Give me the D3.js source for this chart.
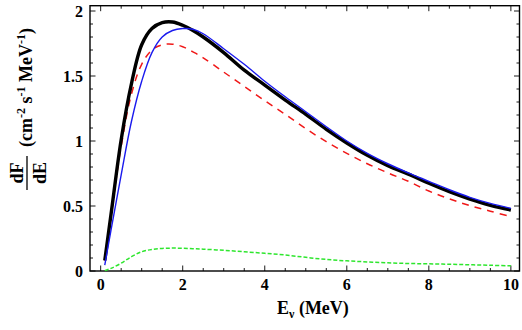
<!DOCTYPE html>
<html><head><meta charset="utf-8">
<script src="https://cdn.jsdelivr.net/npm/d3@7"></script>
<style>body{margin:0;background:#fff}svg{display:block}text{font-family:"Liberation Serif","Times New Roman",serif;font-weight:bold}</style>
</head><body>
<svg id="chart" width="522" height="330"></svg>
<script>
// Data
const energy = [0.1,0.25,0.5,0.75,1.0,1.25,1.5,1.75,2.0,2.25,2.5,3.0,3.5,4.0,4.5,5.0,5.5,6.0,6.5,7.0,7.5,8.0,8.5,9.0,9.5,10.0];
const totalFlux = [0.08,0.43,1.01,1.44,1.74,1.865,1.91,1.915,1.89,1.85,1.80,1.68,1.545,1.43,1.315,1.205,1.09,0.985,0.89,0.81,0.745,0.675,0.61,0.553,0.505,0.469];
const blueFlux  = [0.046,0.31,0.74,1.15,1.46,1.68,1.80,1.85,1.865,1.86,1.825,1.71,1.59,1.46,1.34,1.225,1.11,1.0,0.905,0.825,0.755,0.69,0.625,0.567,0.52,0.482];
const redFlux   = [0.08,0.42,0.96,1.36,1.59,1.70,1.74,1.745,1.725,1.685,1.64,1.53,1.42,1.31,1.205,1.095,0.995,0.905,0.825,0.755,0.69,0.615,0.555,0.503,0.46,0.418];
const greenFlux = [0.003,0.02,0.06,0.11,0.148,0.166,0.174,0.176,0.175,0.172,0.168,0.159,0.148,0.136,0.123,0.105,0.089,0.078,0.070,0.063,0.058,0.055,0.052,0.048,0.044,0.040];
const xTicks = [0,2,4,6,8,10];
const yTicks = [0,0.5,1,1.5,2];
const yTickLabels = ["0","0.5","1","1.5","2"];

const svg = d3.select("#chart");
const L=90, R=519.5, T=5.7, B=271;
const x = d3.scaleLinear().domain([-0.26,10.21]).range([L,R]);
const y = d3.scaleLinear().domain([0,(B-T)/130]).range([B,T]);

// frame
svg.append("rect").attr("x",L).attr("y",T).attr("width",R-L).attr("height",B-T)
  .attr("fill","none").attr("stroke","#000").attr("stroke-width",1.4);

const xMinor = d3.range(0,10.01,0.5).filter(v=>Math.abs(v/2-Math.round(v/2))>1e-6);
const yMinor = d3.range(0,2.041,0.1).filter(v=>Math.abs(v*2-Math.round(v*2))>1e-6);
const tk = svg.append("g").attr("stroke","#000").attr("stroke-width",0.9);
function xt(vals,len){vals.forEach(v=>{
  tk.append("line").attr("x1",x(v)).attr("x2",x(v)).attr("y1",B).attr("y2",B-len);
  tk.append("line").attr("x1",x(v)).attr("x2",x(v)).attr("y1",T).attr("y2",T+len);});}
function yt(vals,len){vals.forEach(v=>{
  tk.append("line").attr("y1",y(v)).attr("y2",y(v)).attr("x1",L).attr("x2",L+len);
  tk.append("line").attr("y1",y(v)).attr("y2",y(v)).attr("x1",R).attr("x2",R-len);});}
xt(xTicks,5.5); xt(xMinor,3); yt(yTicks,5.5); yt(yMinor,3);

// tick labels
svg.append("g").selectAll("text").data(xTicks).join("text")
  .attr("x",d=>x(d)).attr("y",290).attr("text-anchor","middle").attr("font-size",16).text(d=>d);
svg.append("g").selectAll("text").data(yTicks).join("text")
  .attr("x",83).attr("y",d=>y(d)+5.5).attr("text-anchor","end").attr("font-size",16).text((d,i)=>yTickLabels[i]);

// curves
const line = (vals)=>d3.line().x((d,i)=>x(energy[i])).y(d=>y(d)).curve(d3.curveCatmullRom.alpha(0.5))(vals);
svg.append("path").attr("d",line(greenFlux)).attr("fill","none").attr("stroke","#2ee62e").attr("stroke-width",1.5).attr("stroke-dasharray","4,2");
svg.append("path").attr("d",line(redFlux)).attr("fill","none").attr("stroke","#f01818").attr("stroke-width",1.5).attr("stroke-dasharray","7,6");
svg.append("path").attr("d",line(totalFlux)).attr("fill","none").attr("stroke","#000").attr("stroke-width",3.4);
svg.append("path").attr("d",line(blueFlux)).attr("fill","none").attr("stroke","#1a1aee").attr("stroke-width",1.4);

// x label
const xl = svg.append("text").attr("x",277).attr("y",314).attr("font-size",18);
xl.append("tspan").text("E");
xl.append("tspan").attr("font-size",12).attr("dy",4).text("ν");
xl.append("tspan").attr("dy",-4).text(" (MeV)");

// y label
const yl = svg.append("g").attr("transform","translate(27,193) rotate(-90)");
yl.append("text").attr("x",20).attr("y",-4).attr("text-anchor","middle").attr("font-size",18).text("dF");
yl.append("line").attr("x1",3).attr("x2",37).attr("y1",0).attr("y2",0).attr("stroke","#000").attr("stroke-width",1.3);
yl.append("text").attr("x",20).attr("y",19).attr("text-anchor","middle").attr("font-size",18).text("dE");
const ut = yl.append("text").attr("x",46).attr("y",5).attr("font-size",18);
ut.append("tspan").text("(cm");
ut.append("tspan").attr("font-size",12).attr("dy",-7).text("-2");
ut.append("tspan").attr("dy",7).text(" s");
ut.append("tspan").attr("font-size",12).attr("dy",-7).text("-1");
ut.append("tspan").attr("dy",7).text(" MeV");
ut.append("tspan").attr("font-size",12).attr("dy",-7).text("-1");
ut.append("tspan").attr("dy",7).text(")");
</script>
</body></html>
